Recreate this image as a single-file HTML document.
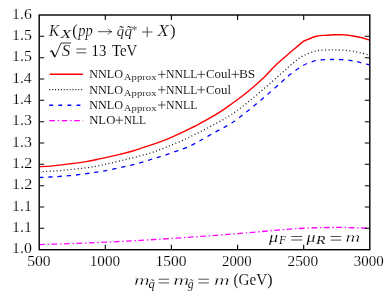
<!DOCTYPE html>
<html>
<head>
<meta charset="utf-8">
<title>K-factor plot</title>
<style>
html,body{margin:0;padding:0;background:#fff;}
body{width:390px;height:293px;overflow:hidden;}
svg{display:block;will-change:transform;}
text{font-family:"Liberation Serif",serif;fill:#000;stroke:#fff;}
</style>
</head>
<body>
<svg width="390" height="293" viewBox="0 0 390 293">
<rect x="0" y="0" width="390" height="293" fill="#fff"/>

<!-- data curves -->
<g fill="none" stroke-linejoin="round">
<path stroke="#ff0000" stroke-width="1.4" d="M39.2,166.7C41.5,166.6 47.7,166.4 52.7,165.9C57.7,165.4 63.8,164.7 69.4,163.9C75.0,163.2 80.8,162.5 86.1,161.6C91.4,160.7 95.7,159.7 101.0,158.6C106.3,157.5 112.1,156.2 117.7,154.9C123.3,153.6 128.8,152.2 134.4,150.5C140.0,148.8 145.8,146.7 151.1,144.9C156.4,143.1 160.7,141.8 166.0,139.7C171.3,137.6 177.1,134.8 182.7,132.1C188.3,129.4 193.8,126.8 199.4,123.8C205.0,120.8 210.8,117.7 216.1,114.4C221.4,111.2 225.7,108.1 231.0,104.3C236.3,100.5 242.1,96.3 247.7,91.7C253.3,87.1 259.6,81.5 264.4,76.9C269.2,72.3 271.9,68.7 276.7,64.2C281.5,59.7 288.9,53.6 293.4,49.7C297.9,45.9 302.0,42.5 303.7,41.1C305.8,40.3 312.6,37.3 316.4,36.3C320.2,35.3 323.3,35.5 326.4,35.3C329.4,35.0 331.9,34.9 334.7,34.8C337.5,34.7 340.3,34.6 343.1,34.8C345.9,34.9 348.6,35.3 351.4,35.7C354.2,36.1 356.7,36.5 359.8,37.3C362.9,38.0 368.1,39.7 369.8,40.2"/>
<path stroke="#1a1a1a" stroke-width="1.3" stroke-dasharray="1 2.5" d="M39.2,171.8C41.5,171.7 47.7,171.4 52.7,171.1C57.7,170.8 63.8,170.2 69.4,169.7C75.0,169.1 80.8,168.5 86.1,167.8C91.4,167.1 95.7,166.4 101.0,165.3C106.3,164.2 112.1,162.8 117.7,161.5C123.3,160.2 128.8,158.8 134.4,157.4C140.0,156.0 145.8,154.5 151.1,152.8C156.4,151.1 160.7,149.4 166.0,147.3C171.3,145.2 177.1,142.8 182.7,140.3C188.3,137.8 193.8,135.0 199.4,132.2C205.0,129.4 210.8,126.4 216.1,123.5C221.4,120.6 225.7,118.3 231.0,114.8C236.3,111.3 242.1,106.8 247.7,102.4C253.3,98.0 258.8,93.1 264.4,88.3C270.0,83.5 276.3,77.8 281.1,73.6C285.9,69.4 289.7,65.9 293.4,62.9C297.1,59.9 299.5,57.6 303.4,55.6C307.3,53.6 312.7,51.8 316.8,50.9C320.9,50.0 325.0,50.2 328.0,50.0C331.0,49.8 332.2,49.9 334.7,49.9C337.2,49.9 340.3,50.0 343.1,50.2C345.9,50.4 348.6,50.6 351.4,51.0C354.2,51.4 356.7,51.9 359.8,52.6C362.9,53.3 368.1,54.9 369.8,55.4"/>
<path stroke="#0000ff" stroke-width="1.3" stroke-dasharray="4.3 4.9" d="M39.2,177.5C41.5,177.4 47.7,177.1 52.7,176.8C57.7,176.5 63.8,176.2 69.4,175.7C75.0,175.2 80.8,174.4 86.1,173.7C91.4,173.0 95.7,172.4 101.0,171.5C106.3,170.6 112.1,169.3 117.7,168.1C123.3,166.9 128.8,165.7 134.4,164.3C140.0,162.9 145.8,161.1 151.1,159.5C156.4,157.9 159.9,156.9 166.0,154.8C172.1,152.7 182.1,149.3 187.7,147.0C193.3,144.7 194.7,143.6 199.4,141.0C204.1,138.4 210.8,134.5 216.1,131.6C221.4,128.7 225.7,126.8 231.0,123.4C236.3,120.0 242.1,115.4 247.7,111.0C253.3,106.6 258.8,101.9 264.4,97.1C270.0,92.3 276.8,86.2 281.1,82.4C285.4,78.7 286.4,77.4 290.1,74.6C293.8,71.8 298.9,67.7 303.4,65.3C307.8,62.9 312.1,61.4 316.8,60.4C321.5,59.4 327.3,59.6 331.4,59.5C335.5,59.4 338.1,59.4 341.4,59.6C344.7,59.8 348.3,60.2 351.4,60.6C354.5,61.0 356.7,61.6 359.8,62.3C362.9,63.0 368.1,64.5 369.8,64.9"/>
<path stroke="#ff00ff" stroke-width="1.3" stroke-dasharray="5.7 2.8 1.4 2.5" d="M39.2,244.6C47.7,244.3 73.2,243.6 90.0,242.9C106.8,242.2 123.8,241.3 140.0,240.4C156.2,239.5 172.0,238.4 187.0,237.4C202.0,236.4 217.8,235.1 230.0,234.2C242.2,233.2 252.2,232.4 260.0,231.7C267.8,231.0 271.2,230.7 277.0,230.2C282.8,229.7 287.8,229.1 295.0,228.7C302.2,228.3 311.7,227.9 320.0,227.7C328.3,227.5 336.7,227.4 345.0,227.5C353.3,227.6 365.7,228.2 369.8,228.3"/>
</g>
<!-- legend samples -->
<g fill="none">
<path stroke="#ff0000" stroke-width="1.4" d="M49.7,74.2H82.9"/>
<path stroke="#1a1a1a" stroke-width="1.3" stroke-dasharray="1 1.9" d="M49.2,89.7H82.5"/>
<path stroke="#0000ff" stroke-width="1.4" stroke-dasharray="3.8 5.3" d="M49.3,105.2H82.9"/>
<path stroke="#ff00ff" stroke-width="1.3" stroke-dasharray="5.7 2.8 1.4 2.5" d="M49.3,120.7H83.1"/>
</g>
<!-- frame -->
<rect x="39.2" y="15.0" width="330.6" height="234.7" fill="none" stroke="#000" stroke-width="1.4"/>
<!-- ticks -->
<g stroke="#000" stroke-width="1.1" fill="none">
<path d="M39.2,36.3h5 M369.8,36.3h-5 M39.2,57.7h5 M369.8,57.7h-5 M39.2,79.0h5 M369.8,79.0h-5 M39.2,100.3h5 M369.8,100.3h-5 M39.2,121.7h5 M369.8,121.7h-5 M39.2,143.0h5 M369.8,143.0h-5 M39.2,164.3h5 M369.8,164.3h-5 M39.2,185.7h5 M369.8,185.7h-5 M39.2,207.0h5 M369.8,207.0h-5 M39.2,228.3h5 M369.8,228.3h-5 M105.3,249.65v-5 M105.3,15.0v5 M171.4,249.65v-5 M171.4,15.0v5 M237.6,249.65v-5 M237.6,15.0v5 M303.7,249.65v-5 M303.7,15.0v5"/>
</g>
<!-- math symbols -->
<g stroke="#000" fill="none" stroke-width="0.68">
<path d="M142.0,32.0H152.4 M147.20,26.80V37.20 M76.3,49.0H86.2 M76.3,52.8H86.2 M98,31.7H111.5 M108.3,28.9C109,30.4 110.2,31.3 111.8,31.7C110.2,32.1 109,33 108.3,34.5 M158.6,279.2H169.0 M158.6,282.9H169.0 M198.3,279.2H208.8 M198.3,282.9H208.8 M291.3,236.5H302.3 M291.3,240.0H302.3 M330.6,236.5H341.2 M330.6,240.1H341.2"/>
<path stroke-width="0.65" d="M158.0,74.4H165.6 M161.80,70.60V78.20 M197.4,74.4H205.0 M201.20,70.60V78.20 M231.5,74.4H239.1 M235.30,70.60V78.20 M158.0,89.8H165.6 M161.80,86.00V93.60 M197.4,89.8H205.0 M201.20,86.00V93.60 M158.0,105.0H165.6 M161.80,101.20V108.80 M115.4,120.2H123.0 M119.20,116.40V124.00"/>
<path stroke-width="0.8" stroke-linejoin="miter" d="M49.8,51.8L51.6,50.4L54.9,57.2L61.1,43H71.1"/>
<path stroke-width="1.4" d="M51.8,50.8L54.7,56.6"/>
</g>
<!-- text -->
<text x="48.88" y="35.60" font-size="16.7" font-style="italic" stroke-width="0.2" textLength="10.15" lengthAdjust="spacingAndGlyphs">K</text>
<text x="60.41" y="38.10" font-size="13" font-style="italic" stroke-width="0.1" textLength="10.80" lengthAdjust="spacingAndGlyphs">X</text>
<text x="72.35" y="35.60" font-size="16.3" stroke-width="0.1" textLength="5.32" lengthAdjust="spacingAndGlyphs">(</text>
<text x="78.17" y="35.60" font-size="16.7" font-style="italic" stroke-width="0.2" textLength="14.44" lengthAdjust="spacingAndGlyphs">pp</text>
<text x="116.69" y="35.60" font-size="14.5" font-style="italic" stroke-width="0.14" textLength="7.39" lengthAdjust="spacingAndGlyphs">q̃</text>
<text x="124.48" y="35.60" font-size="14.5" font-style="italic" stroke-width="0.14" textLength="7.63" lengthAdjust="spacingAndGlyphs">q̃</text>
<text x="131.59" y="33.60" font-size="11.5" stroke-width="0.1" textLength="5.79" lengthAdjust="spacingAndGlyphs">*</text>
<text x="157.46" y="35.60" font-size="16.7" font-style="italic" stroke-width="0.2" textLength="11.20" lengthAdjust="spacingAndGlyphs">X</text>
<text x="169.95" y="35.60" font-size="16.3" stroke-width="0.1" textLength="5.61" lengthAdjust="spacingAndGlyphs">)</text>
<text x="61.88" y="55.50" font-size="16.7" font-style="italic" stroke-width="0.2" textLength="8.49" lengthAdjust="spacingAndGlyphs">S</text>
<text x="91.54" y="55.80" font-size="16.3" stroke-width="0.1" textLength="14.77" lengthAdjust="spacingAndGlyphs">13</text>
<text x="112.02" y="55.70" font-size="16.5" stroke-width="0.1" textLength="25.26" lengthAdjust="spacingAndGlyphs">TeV</text>
<text x="89.22" y="78.00" font-size="12.6" stroke-width="0.1" textLength="33.83" lengthAdjust="spacingAndGlyphs">NNLO</text>
<text x="123.84" y="80.20" font-size="9.1" stroke-width="0.1" textLength="32.68" lengthAdjust="spacingAndGlyphs">Approx</text>
<text x="165.96" y="78.00" font-size="12.6" stroke-width="0.1" textLength="31.38" lengthAdjust="spacingAndGlyphs">NNLL</text>
<text x="206.01" y="78.00" font-size="12.6" stroke-width="0.1" textLength="25.01" lengthAdjust="spacingAndGlyphs">Coul</text>
<text x="238.94" y="78.00" font-size="12.6" stroke-width="0.1" textLength="16.34" lengthAdjust="spacingAndGlyphs">BS</text>
<text x="89.22" y="93.60" font-size="12.6" stroke-width="0.1" textLength="33.83" lengthAdjust="spacingAndGlyphs">NNLO</text>
<text x="123.84" y="95.80" font-size="9.1" stroke-width="0.1" textLength="32.68" lengthAdjust="spacingAndGlyphs">Approx</text>
<text x="165.96" y="93.60" font-size="12.6" stroke-width="0.1" textLength="31.38" lengthAdjust="spacingAndGlyphs">NNLL</text>
<text x="206.01" y="93.60" font-size="12.6" stroke-width="0.1" textLength="25.01" lengthAdjust="spacingAndGlyphs">Coul</text>
<text x="89.22" y="108.90" font-size="12.6" stroke-width="0.1" textLength="33.83" lengthAdjust="spacingAndGlyphs">NNLO</text>
<text x="123.84" y="111.10" font-size="9.1" stroke-width="0.1" textLength="32.68" lengthAdjust="spacingAndGlyphs">Approx</text>
<text x="165.96" y="108.90" font-size="12.6" stroke-width="0.1" textLength="31.38" lengthAdjust="spacingAndGlyphs">NNLL</text>
<text x="89.19" y="124.10" font-size="12.6" stroke-width="0.1" textLength="26.15" lengthAdjust="spacingAndGlyphs">NLO</text>
<text x="123.74" y="124.10" font-size="12.6" stroke-width="0.1" textLength="22.34" lengthAdjust="spacingAndGlyphs">NLL</text>
<text x="12.14" y="18.60" font-size="14.5" stroke-width="0.14" textLength="19.64" lengthAdjust="spacingAndGlyphs">1.6</text>
<text x="12.12" y="39.93" font-size="14.5" stroke-width="0.14" textLength="19.83" lengthAdjust="spacingAndGlyphs">1.5</text>
<text x="12.12" y="61.26" font-size="14.5" stroke-width="0.14" textLength="19.83" lengthAdjust="spacingAndGlyphs">1.5</text>
<text x="12.16" y="82.60" font-size="14.5" stroke-width="0.14" textLength="19.51" lengthAdjust="spacingAndGlyphs">1.4</text>
<text x="12.16" y="103.93" font-size="14.5" stroke-width="0.14" textLength="19.51" lengthAdjust="spacingAndGlyphs">1.4</text>
<text x="12.12" y="125.26" font-size="14.5" stroke-width="0.14" textLength="19.82" lengthAdjust="spacingAndGlyphs">1.3</text>
<text x="12.12" y="146.59" font-size="14.5" stroke-width="0.14" textLength="19.82" lengthAdjust="spacingAndGlyphs">1.3</text>
<text x="12.08" y="167.92" font-size="14.5" stroke-width="0.14" textLength="20.15" lengthAdjust="spacingAndGlyphs">1.2</text>
<text x="12.08" y="189.25" font-size="14.5" stroke-width="0.14" textLength="20.15" lengthAdjust="spacingAndGlyphs">1.2</text>
<text x="12.06" y="210.59" font-size="14.5" stroke-width="0.14" textLength="19.81" lengthAdjust="spacingAndGlyphs">1.1</text>
<text x="12.06" y="231.92" font-size="14.5" stroke-width="0.14" textLength="19.81" lengthAdjust="spacingAndGlyphs">1.1</text>
<text x="12.13" y="253.25" font-size="14.5" stroke-width="0.14" textLength="19.70" lengthAdjust="spacingAndGlyphs">1.0</text>
<text x="27.16" y="266.10" font-size="14.5" stroke-width="0.14" textLength="23.48" lengthAdjust="spacingAndGlyphs">500</text>
<text x="89.75" y="266.10" font-size="14.5" stroke-width="0.14" textLength="30.33" lengthAdjust="spacingAndGlyphs">1000</text>
<text x="155.51" y="266.10" font-size="14.5" stroke-width="0.14" textLength="31.02" lengthAdjust="spacingAndGlyphs">1500</text>
<text x="222.03" y="266.10" font-size="14.5" stroke-width="0.14" textLength="29.58" lengthAdjust="spacingAndGlyphs">2000</text>
<text x="287.51" y="266.10" font-size="14.5" stroke-width="0.14" textLength="30.67" lengthAdjust="spacingAndGlyphs">2500</text>
<text x="353.69" y="266.10" font-size="14.5" stroke-width="0.14" textLength="29.92" lengthAdjust="spacingAndGlyphs">3000</text>
<text x="134.14" y="284.90" font-size="15.2" font-style="italic" stroke-width="0.3" textLength="15.70" lengthAdjust="spacingAndGlyphs">m</text>
<text x="148.47" y="287.60" font-size="12.2" font-style="italic" stroke-width="0.1" textLength="6.28" lengthAdjust="spacingAndGlyphs">q̃</text>
<text x="173.38" y="284.90" font-size="15.2" font-style="italic" stroke-width="0.3" textLength="15.99" lengthAdjust="spacingAndGlyphs">m</text>
<text x="187.80" y="287.60" font-size="12.2" font-style="italic" stroke-width="0.1" textLength="5.91" lengthAdjust="spacingAndGlyphs">g̃</text>
<text x="214.10" y="284.90" font-size="15.2" font-style="italic" stroke-width="0.3" textLength="15.65" lengthAdjust="spacingAndGlyphs">m</text>
<text x="233.43" y="284.90" font-size="16.3" stroke-width="0.1" textLength="4.90" lengthAdjust="spacingAndGlyphs">(</text>
<text x="238.44" y="284.90" font-size="16.7" stroke-width="0.1" textLength="28.65" lengthAdjust="spacingAndGlyphs">GeV</text>
<text x="266.95" y="284.90" font-size="16.3" stroke-width="0.1" textLength="5.66" lengthAdjust="spacingAndGlyphs">)</text>
<text x="268.96" y="241.80" font-size="14.6" font-style="italic" stroke-width="0.14" textLength="9.14" lengthAdjust="spacingAndGlyphs">μ</text>
<text x="279.02" y="244.00" font-size="12.6" font-style="italic" stroke-width="0.1" textLength="7.13" lengthAdjust="spacingAndGlyphs">F</text>
<text x="306.54" y="241.80" font-size="14.6" font-style="italic" stroke-width="0.14" textLength="8.96" lengthAdjust="spacingAndGlyphs">μ</text>
<text x="316.02" y="244.00" font-size="12.6" font-style="italic" stroke-width="0.1" textLength="9.51" lengthAdjust="spacingAndGlyphs">R</text>
<text x="345.46" y="241.80" font-size="15.2" font-style="italic" stroke-width="0.3" textLength="14.73" lengthAdjust="spacingAndGlyphs">m</text>
</svg>
</body>
</html>
